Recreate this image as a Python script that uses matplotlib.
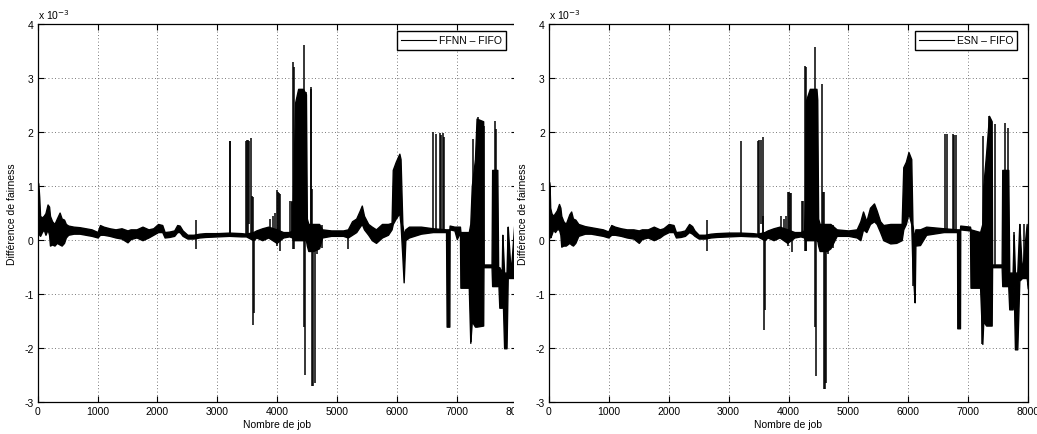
import matplotlib
matplotlib.use("Agg")
import matplotlib.pyplot as plt
from matplotlib.lines import Line2D
from matplotlib.patches import Rectangle

plt.rcParams['font.family'] = ['Liberation Sans', 'DejaVu Sans']
plt.rcParams['axes.unicode_minus'] = False

# ---- FFNN - FIFO (values in units of 1e-3) ----
# envelope of the dense noisy line: job, lower edge, upper edge
ffnn_job = [0, 10, 25, 40, 70, 100, 130, 165, 190, 205, 240, 280, 320, 366, 400, 440, 470, 510,
            600, 700, 800, 900, 1000, 1040, 1100, 1200, 1300, 1400, 1500, 1550, 1650, 1750, 1850,
            1930, 2010, 2080, 2120, 2200, 2280, 2330, 2370, 2420, 2500, 2600, 2700, 2800, 3000,
            3200, 3400, 3480, 3600, 3650, 3750, 3850, 3990, 4100, 4200, 4250, 4262, 4300, 4350,
            4430, 4480, 4495, 4520, 4600, 4700, 4750, 4900, 5100, 5180, 5250, 5320, 5380, 5413,
            5450, 5520, 5580, 5650, 5750, 5850, 5910, 5930, 5980, 6040, 6060, 6090, 6112, 6140,
            6200, 6400, 6600, 6820, 6830, 6875, 6880, 6960, 7000, 7052, 7060, 7200, 7225, 7250,
            7303, 7330, 7440, 7445, 7580, 7590, 7676, 7690, 7710, 7750, 7760, 7790, 7830, 7850,
            7900, 7960]
ffnn_lo = [0.95, 0.75, 0.1, 0.08, 0.15, 0.2, 0.1, 0.2, 0.1, -0.1, -0.08, -0.1, -0.05, -0.08, -0.1,
           -0.05, 0.05, 0.1, 0.12, 0.12, 0.1, 0.08, 0.05, 0.1, 0.1, 0.08, 0.05, 0.03, -0.04, 0.02,
           0.05, 0.0, 0.05, 0.1, 0.15, 0.15, 0.05, 0.06, 0.08, 0.15, 0.15, 0.08, 0.03, 0.03, 0.05,
           0.06, 0.07, 0.08, 0.07, 0.07, 0.0, 0.05, 0.0, 0.05, -0.05, 0.05, 0.07, 0.05, 0.0, 0.0,
           0.0, 0.0, 0.0, -0.1, -0.2, -0.2, -0.15, 0.05, 0.08, 0.08, 0.05, 0.1, 0.15, 0.25, 0.3,
           0.2, 0.1, 0.0, -0.05, 0.05, 0.1, 0.2, 0.3, 0.4, 0.5, 0.3, -0.3, -0.78, 0.0,
           0.05, 0.12, 0.15, 0.15, -1.6, -1.6, 0.2, 0.18, 0.02, 0.15, -0.88, -0.88, -1.9, -1.5,
           -1.6, -1.6, -1.58, -0.5, -0.5, -0.85, -0.85, -0.7, -1.25, -1.25, -0.8, -2.0, -2.0, -0.7,
           -0.7, -0.7]
ffnn_hi = [1.07, 1.05, 0.8, 0.45, 0.42, 0.45, 0.5, 0.66, 0.62, 0.45, 0.35, 0.3, 0.4, 0.51, 0.4,
           0.38, 0.3, 0.27, 0.25, 0.24, 0.22, 0.2, 0.15, 0.28, 0.25, 0.22, 0.2, 0.22, 0.18, 0.2,
           0.2, 0.25, 0.2, 0.22, 0.3, 0.28, 0.15, 0.16, 0.18, 0.28, 0.27, 0.18, 0.1, 0.1, 0.12,
           0.13, 0.13, 0.14, 0.13, 0.12, 0.15, 0.18, 0.22, 0.25, 0.2, 0.15, 0.15, 0.18, 0.7, 2.55,
           2.8, 2.8, 2.7, 0.4, 0.3, 0.3, 0.3, 0.2, 0.18, 0.18, 0.2, 0.35, 0.4, 0.55, 0.64,
           0.45, 0.3, 0.25, 0.2, 0.3, 0.3, 0.32, 1.3, 1.45, 1.6, 1.5, 0.3, 0.1, 0.2,
           0.25, 0.25, 0.22, 0.2, 0.2, 0.2, 0.27, 0.25, 0.25, 0.25, 0.15, 0.15, 0.3, 1.0,
           1.5, 2.25, 2.2, -0.45, -0.45, 1.3, 1.3, -0.5, -0.5, -0.6, 0.1, -0.6, -0.6, 0.25,
           -0.6, 0.3]
# isolated spikes: job, bottom, top
ffnn_spike_job = [2641, 3205, 3212, 3480, 3500, 3520, 3534, 3562, 3578, 3590, 3601, 3610, 3880, 3930,
                  3960, 3995, 4015, 4035, 4047, 4214, 4240, 4255, 4270, 4280, 4448, 4464, 4481, 4559,
                  4570, 4582, 4600, 4625, 4660, 4740, 5188, 6607, 6652, 6719, 6730, 6775, 6790, 7236,
                  7264, 7358, 7380, 7453, 7630, 7650, 7766, 7860]
ffnn_spike_lo = [-0.16, 0.1, 0.1, 0.1, 0.1, 0.1, 0.3, 0.1, 0.1, 0.0, -1.57, -1.35, 0.05, 0.05,
                 0.05, -0.1, 0.1, 0.1, -0.2, 0.1, 0.1, 0.1, -0.16, -0.16, -1.6, -2.5, 0.0, 0.0,
                 0.0, -2.69, -2.69, -2.65, -0.25, -0.15, -0.16, 0.15, 0.15, 0.15, 0.15, 0.15, 0.15, -1.89,
                 -1.0, -1.5, -1.5, -0.5, -0.8, -0.8, -1.0, -0.7]
ffnn_spike_hi = [0.38, 1.83, 1.83, 1.83, 1.86, 1.86, 1.84, 1.89, 0.82, 0.8, 0.1, 0.1, 0.4, 0.45,
                 0.5, 0.93, 0.9, 0.88, 0.85, 0.73, 0.72, 0.7, 3.29, 3.2, 3.61, 0.1, 2.75, 2.84,
                 2.8, 0.95, 0.3, 0.2, 0.3, 0.28, 0.1, 2.0, 1.97, 1.98, 1.95, 1.98, 1.9, 0.2,
                 1.88, 2.27, 2.22, 2.12, 2.21, 2.05, 0.1, 0.25]

# ---- ESN - FIFO (values in units of 1e-3) ----
esn_job = [0, 10, 20, 40, 70, 100, 130, 167, 190, 205, 240, 280, 340, 370, 400, 440, 490, 600,
           700, 800, 900, 990, 1040, 1100, 1200, 1300, 1410, 1500, 1550, 1650, 1750, 1850, 1910,
           2000, 2080, 2120, 2200, 2270, 2340, 2390, 2430, 2500, 2600, 2700, 2800, 3000, 3200,
           3400, 3480, 3600, 3650, 3750, 3850, 3980, 4100, 4200, 4260, 4275, 4290, 4356, 4467,
           4480, 4495, 4520, 4640, 4700, 4805, 5000, 5139, 5200, 5245, 5300, 5361, 5428, 5472,
           5530, 5583, 5700, 5800, 5890, 5917, 5960, 6004, 6050, 6070, 6090, 6107, 6119, 6196,
           6300, 6592, 6815, 6819, 6864, 6868, 7031, 7040, 7200, 7237, 7253, 7300, 7349, 7393,
           7400, 7560, 7570, 7670, 7687, 7743, 7760, 7782, 7821, 7855, 7900, 7978, 8000]
esn_lo = [0.95, 0.6, 0.05, 0.1, 0.2, 0.15, 0.2, 0.2, 0.1, -0.12, -0.1, -0.1, -0.05, -0.08, -0.1,
          -0.05, 0.08, 0.12, 0.12, 0.1, 0.08, 0.05, 0.1, 0.1, 0.08, 0.05, 0.03, -0.05, 0.02, 0.05,
          0.0, 0.05, 0.1, 0.15, 0.15, 0.05, 0.06, 0.08, 0.15, 0.12, 0.08, 0.03, 0.03, 0.05, 0.06,
          0.07, 0.08, 0.07, 0.07, 0.0, 0.05, 0.0, 0.05, -0.05, 0.05, 0.07, 0.05, 0.0, 0.0, 0.0,
          0.0, 0.0, -0.1, -0.2, -0.2, -0.15, 0.08, 0.08, 0.05, 0.0, 0.2, 0.15, 0.3, 0.35, 0.3,
          0.15, 0.0, -0.06, -0.05, 0.0, 0.2, 0.3, 0.5, 0.3, -0.5, -0.85, -1.15, -0.1, -0.09,
          0.1, 0.15, 0.15, -1.63, -1.63, 0.2, 0.18, -0.88, -0.88, -1.92, -1.5, -1.58, -1.58, -1.58,
          -0.5, -0.5, -0.85, -0.85, -1.28, -1.28, -0.8, -2.02, -2.02, -0.75, -0.7, -0.7, -0.9]
esn_hi = [1.08, 1.0, 0.6, 0.5, 0.45, 0.5, 0.55, 0.67, 0.6, 0.45, 0.35, 0.3, 0.48, 0.53, 0.4,
          0.38, 0.3, 0.26, 0.24, 0.22, 0.2, 0.16, 0.28, 0.25, 0.22, 0.2, 0.2, 0.18, 0.2, 0.2,
          0.25, 0.2, 0.22, 0.3, 0.28, 0.15, 0.16, 0.18, 0.3, 0.26, 0.18, 0.1, 0.1, 0.12, 0.13,
          0.14, 0.14, 0.13, 0.12, 0.15, 0.18, 0.22, 0.25, 0.2, 0.15, 0.15, 0.18, 0.72, 2.58, 2.8,
          2.8, 2.6, 0.4, 0.3, 0.3, 0.3, 0.2, 0.18, 0.2, 0.35, 0.53, 0.35, 0.6, 0.68, 0.55,
          0.35, 0.28, 0.3, 0.3, 0.3, 1.35, 1.45, 1.63, 1.5, 0.3, 0.1, 0.1, 0.2, 0.2,
          0.25, 0.22, 0.2, 0.2, 0.2, 0.27, 0.25, 0.2, 0.15, 0.3, 1.0, 1.6, 2.3, 2.2,
          -0.45, -0.45, 1.3, 1.3, -0.6, -0.6, 0.1, -0.6, -0.6, 0.3, -0.6, 0.3, -0.6]
esn_spike_job = [2633, 3206, 3496, 3515, 3536, 3568, 3580, 3596, 3606, 3880, 3930, 3960, 3985, 4005,
                 4025, 4041, 4059, 4220, 4245, 4275, 4288, 4300, 4448, 4458, 4478, 4565, 4575, 4588,
                 4605, 4632, 4660, 4740, 6080, 6613, 6652, 6742, 6760, 6797, 7237, 7253, 7349, 7370,
                 7454, 7598, 7615, 7660, 7766, 7860, 7940]
esn_spike_lo = [-0.2, 0.1, 0.1, 0.1, 0.3, 0.1, 0.1, -1.67, -1.3, 0.05, 0.05, 0.05, -0.1, 0.1,
                0.1, 0.1, -0.22, 0.1, 0.1, -0.2, -0.2, -0.2, -1.6, -2.51, 0.0, 0.0, -0.1, -2.75,
                -2.75, -2.65, -0.25, -0.15, -0.85, 0.15, 0.15, 0.15, 0.15, 0.15, -1.92, -1.0, -1.5, -1.5,
                -0.5, -0.8, -0.8, -0.8, -1.0, -0.7, -0.7]
esn_spike_hi = [0.38, 1.84, 1.83, 1.85, 1.85, 1.9, 0.45, 0.1, 0.1, 0.45, 0.4, 0.45, 0.9, 0.9,
                0.88, 0.88, 0.1, 0.72, 0.72, 3.23, 3.2, 0.1, 3.57, 0.1, 2.6, 2.89, 0.9, 0.9,
                0.3, 0.2, 0.3, 0.28, 0.1, 1.96, 1.97, 1.97, 1.95, 1.95, 0.2, 1.93, 2.3, 2.25,
                2.15, 1.3, 2.17, 2.08, 0.15, 0.3, 0.3]

W, H = 1037, 435
fig = plt.figure(figsize=(W / 100, H / 100), dpi=100)


def draw_panel(ax, job, lo, hi, sj, slo, shi, label):
    ax.fill_between(job, lo, hi, facecolor='black', edgecolor='black', linewidth=1.0, zorder=3)
    ax.vlines(sj, slo, shi, color='black', linewidth=1.1, zorder=3)
    ax.set_xlim(0, 8000)
    ax.set_ylim(-3, 4)
    ax.set_xticks(range(0, 8001, 1000))
    ax.set_yticks(range(-3, 5))
    ax.grid(True, linestyle=(0, (1, 3)), color='0.3', linewidth=0.6)
    ax.tick_params(direction='in', top=True, right=True, length=4, width=0.8,
                   labelsize=7.5, pad=3)
    for s in ax.spines.values():
        s.set_linewidth(0.9)
    ax.set_xlabel("Nombre de job", fontsize=7.5)
    ax.set_ylabel("Différence de fairness", fontsize=7.5)
    ax.xaxis.set_label_coords(0.5, -0.045)
    ax.yaxis.set_label_coords(-0.044, 0.5)
    ax.text(0, 1.008, r'x 10$^{-3}$', transform=ax.transAxes, ha='left', va='bottom',
            fontsize=7.5)
    handle = Line2D([], [], color='black', linewidth=0.8)
    leg = ax.legend([handle], [label], loc='upper right', bbox_to_anchor=(0.978, 0.981),
                    borderaxespad=0, fancybox=False, framealpha=1, edgecolor='black',
                    fontsize=7.5, handlelength=3.3, handletextpad=0.3, borderpad=0.4)
    leg.get_frame().set_linewidth(1.0)
    leg.set_zorder(10)


ax1 = fig.add_axes([37.7 / W, (H - 403.3) / H, 479 / W, 378.3 / H])
draw_panel(ax1, ffnn_job, ffnn_lo, ffnn_hi, ffnn_spike_job, ffnn_spike_lo, ffnn_spike_hi,
           "FFNN \u2013 FIFO")

# the second figure was pasted over the right edge of the first one
cover = Rectangle((513.5 / W, 0), 1 - 513.5 / W, 1, transform=fig.transFigure,
                  facecolor='white', edgecolor='none', zorder=5)
fig.add_artist(cover)

ax2 = fig.add_axes([549 / W, (H - 403.3) / H, 479 / W, 378.3 / H], zorder=10)
draw_panel(ax2, esn_job, esn_lo, esn_hi, esn_spike_job, esn_spike_lo, esn_spike_hi,
           "ESN \u2013 FIFO")

fig.savefig("out.png", dpi=100)
